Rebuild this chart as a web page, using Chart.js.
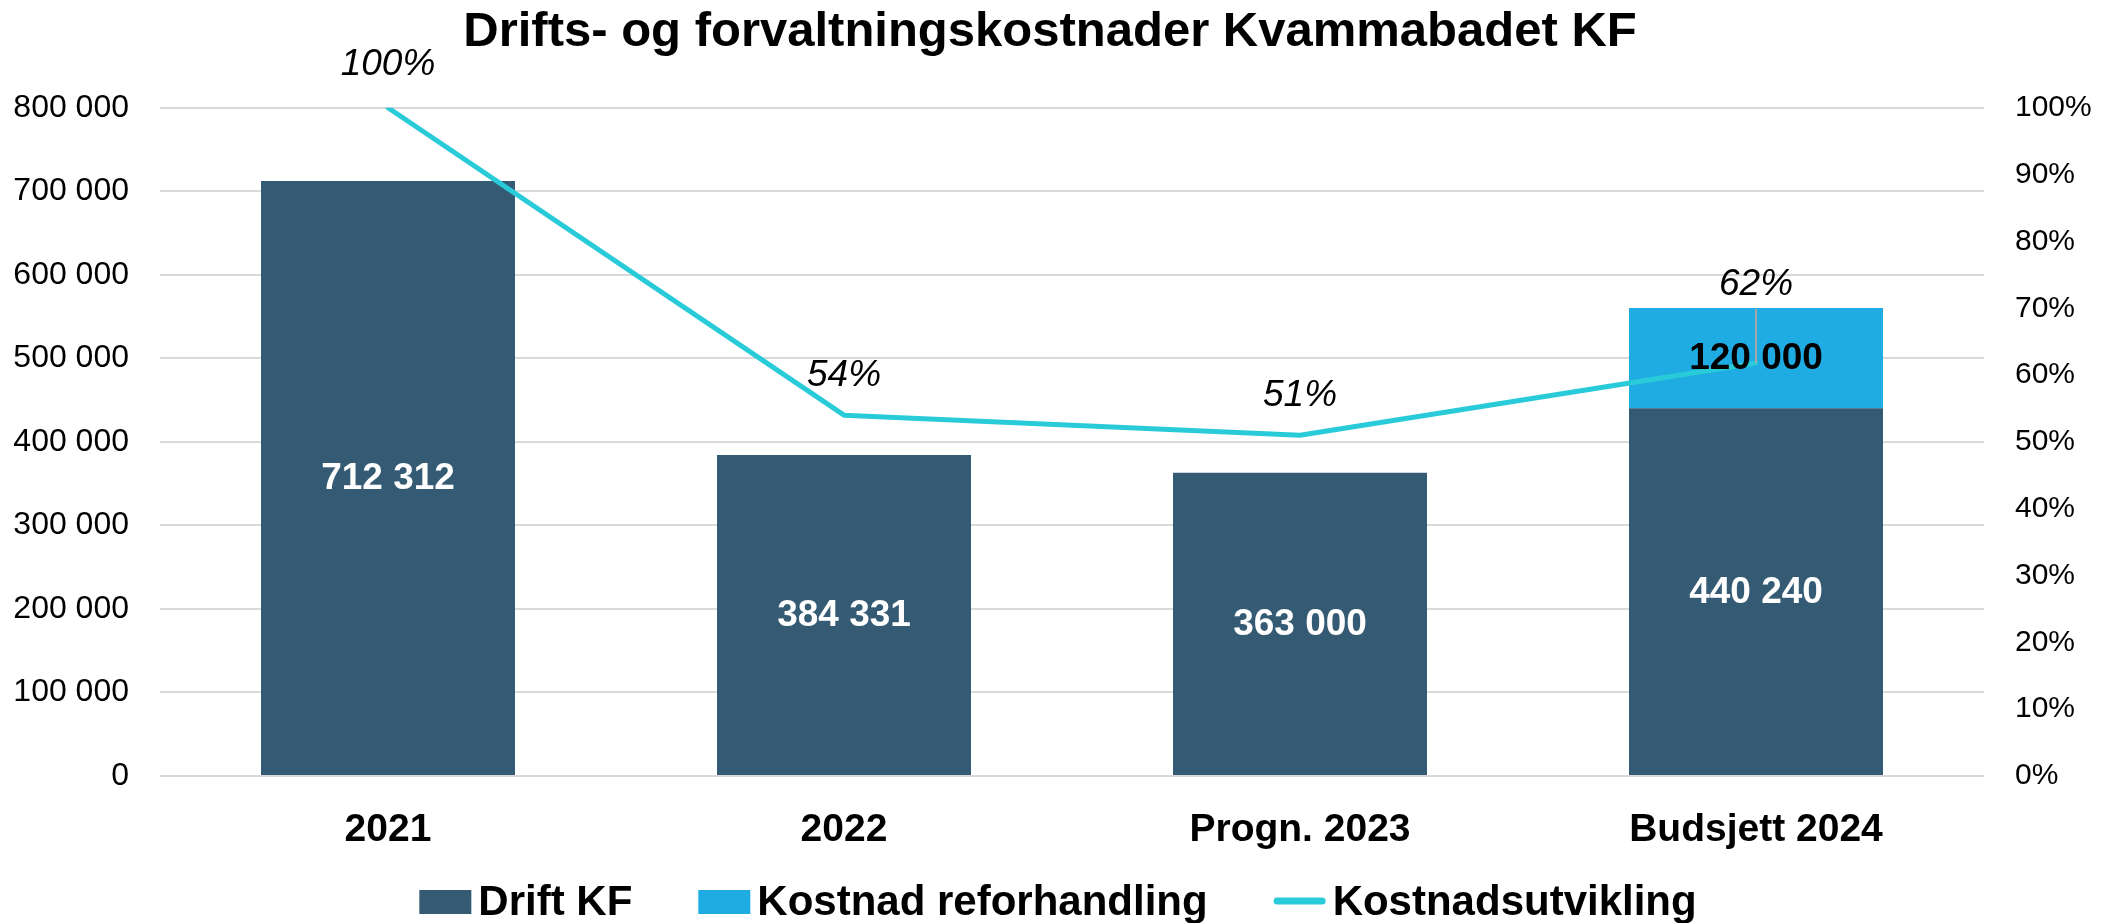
<!DOCTYPE html>
<html><head><meta charset="utf-8">
<script src="https://cdn.jsdelivr.net/npm/chart.js@4/dist/chart.umd.min.js"></script>
<style>html,body{margin:0;padding:0;background:#fff;overflow:hidden}#wrap{width:2116px;height:923px}</style>
</head><body><div id="wrap"><canvas id="c" width="2116" height="923"></canvas></div>
<script>
// ---- data ----
const categories = ['2021', '2022', 'Progn. 2023', 'Budsjett 2024'];
const driftKF = [712312, 384331, 363000, 440240];
const kostnadReforhandling = [null, null, null, 120000];
const kostnadsutvikling = [1.00, 0.54, 0.51, 0.618];
const seriesNames = ['Drift KF', 'Kostnad reforhandling', 'Kostnadsutvikling'];
const chartTitle = 'Drifts- og forvaltningskostnader Kvammabadet KF';

// ---- style ----
const FONT = '"Liberation Sans", Arial, sans-serif';
const C_DARK = '#345B73';
const C_LIGHT = '#1FACE3';
const C_LINE = '#2ACBD9';
const C_GRID = '#D9D9D9';
const lineLabelOffsets = [-43, -39, -40, -78];
const leaderFrom = [0, 0, 0, -54];

function fmtThousands(v) {
  return Math.round(v).toString().replace(/\B(?=(\d{3})+(?!\d))/g, ' ');
}
function fmtPct(v) { return Math.round(v * 100) + '%'; }

const labelPlugin = {
  id: 'valueLabels',
  afterDatasetsDraw(chart) {
    const ctx = chart.ctx;
    ctx.save();
    ctx.textAlign = 'center';
    ctx.textBaseline = 'middle';
    [0, 1].forEach(di => {
      const meta = chart.getDatasetMeta(di);
      const ds = chart.data.datasets[di];
      meta.data.forEach((el, i) => {
        const v = ds.data[i];
        if (v == null) return;
        const p = el.getProps(['x', 'y', 'base'], true);
        ctx.font = 'bold 37px ' + FONT;
        ctx.fillStyle = di === 0 ? '#FFFFFF' : '#000000';
        ctx.fillText(fmtThousands(v), p.x, (p.y + p.base) / 2 + 1);
      });
    });
    const lm = chart.getDatasetMeta(2);
    const lds = chart.data.datasets[2];
    lm.data.forEach((pt, i) => {
      const p = pt.getProps(['x', 'y'], true);
      if (leaderFrom[i] !== 0) {
        ctx.strokeStyle = '#A6A6A6';
        ctx.lineWidth = 2;
        ctx.beginPath();
        ctx.moveTo(p.x, p.y + leaderFrom[i]);
        ctx.lineTo(p.x, p.y);
        ctx.stroke();
      }
      ctx.font = 'italic 37px ' + FONT;
      ctx.fillStyle = '#000000';
      ctx.fillText(fmtPct(lds.data[i]), p.x, p.y + lineLabelOffsets[i]);
    });
    ctx.restore();
  }
};

// legend drawn on the canvas from the chart's own datasets
const legendPlugin = {
  id: 'bottomLegend',
  afterDraw(chart) {
    const ctx = chart.ctx;
    const cy = 902, boxW = 52, boxH = 24, gapBoxText = 7, gapItems = 66;
    ctx.save();
    ctx.font = 'bold 42px ' + FONT;
    ctx.textBaseline = 'middle';
    ctx.textAlign = 'left';
    const items = chart.data.datasets.map(ds => ({
      text: ds.label, type: ds.type,
      color: ds.type === 'line' ? ds.borderColor : ds.backgroundColor,
      w: ctx.measureText(ds.label).width
    }));
    let total = 0;
    items.forEach((it, i) => { total += boxW + gapBoxText + it.w + (i < items.length - 1 ? gapItems : 0); });
    let x = 1058 - total / 2;
    items.forEach(it => {
      if (it.type === 'line') {
        ctx.strokeStyle = it.color;
        ctx.lineWidth = 7;
        ctx.lineCap = 'round';
        ctx.beginPath();
        ctx.moveTo(x + 3.5, cy - 1);
        ctx.lineTo(x + boxW - 3.5, cy - 1);
        ctx.stroke();
      } else {
        ctx.fillStyle = it.color;
        ctx.fillRect(x, cy - boxH / 2, boxW, boxH);
      }
      ctx.fillStyle = '#000';
      ctx.fillText(it.text, x + boxW + gapBoxText, cy + 1);
      x += boxW + gapBoxText + it.w + gapItems;
    });
    ctx.restore();
  }
};

const chart = new Chart(document.getElementById('c'), {
  data: {
    labels: categories,
    datasets: [
      { type: 'bar', label: seriesNames[0], data: driftKF, backgroundColor: C_DARK, borderWidth: 0,
        yAxisID: 'y', stack: 's', categoryPercentage: 1, barPercentage: 0.557, order: 2 },
      { type: 'bar', label: seriesNames[1], data: kostnadReforhandling, backgroundColor: C_LIGHT, borderWidth: 0,
        yAxisID: 'y', stack: 's', categoryPercentage: 1, barPercentage: 0.557, order: 2 },
      { type: 'line', label: seriesNames[2], data: kostnadsutvikling, borderColor: C_LINE, backgroundColor: C_LINE,
        borderWidth: 5, pointRadius: 0, tension: 0, yAxisID: 'y1', order: 1, borderCapStyle: 'round', borderJoinStyle: 'round' }
    ]
  },
  options: {
    responsive: false,
    animation: false,
    devicePixelRatio: 1,
    layout: { padding: { top: 0, left: 0, right: 16, bottom: 69 } },
    plugins: {
      tooltip: { enabled: false },
      legend: { display: false },
      title: {
        display: true, text: chartTitle, color: '#000',
        font: { family: FONT, size: 49, weight: 'bold' },
        padding: { top: 3, bottom: 46 }
      }
    },
    scales: {
      x: {
        stacked: true,
        grid: { display: false, drawTicks: false },
        border: { display: false },
        ticks: { color: '#000', font: { family: FONT, size: 39, weight: 'bold' }, padding: 31, maxRotation: 0 },
        afterFit(s) { s.height = 78; }
      },
      y: {
        stacked: true, position: 'left', min: 0, max: 800000,
        grid: { color: C_GRID, lineWidth: 2, drawTicks: false },
        border: { display: false },
        ticks: { stepSize: 100000, color: '#000', font: { family: FONT, size: 32 }, padding: 31,
                 callback: v => fmtThousands(v) },
        afterFit(s) { s.width = 160; }
      },
      y1: {
        position: 'right', min: 0, max: 1,
        grid: { display: false, drawTicks: false },
        border: { display: false },
        ticks: { stepSize: 0.1, color: '#000', font: { family: FONT, size: 30 }, padding: 31,
                 callback: v => fmtPct(v) },
        afterFit(s) { s.width = 116; }
      }
    }
  },
  plugins: [labelPlugin, legendPlugin]
});
</script>
</body></html>
